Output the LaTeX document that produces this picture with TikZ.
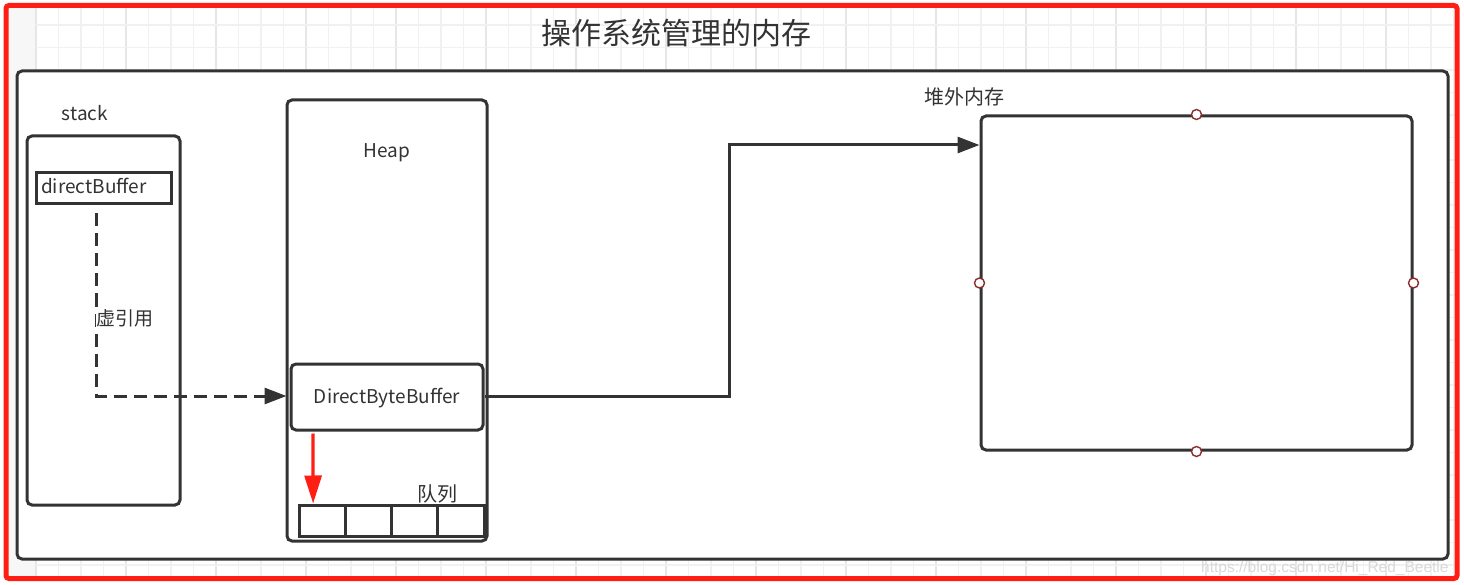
\documentclass[tikz,border=0pt]{standalone}
\usepackage{fontspec}
\setmainfont{Noto Sans CJK SC}
\newfontfamily\wmfont{Liberation Sans}
\usetikzlibrary{arrows.meta}
\definecolor{ln}{HTML}{333333}
\definecolor{gridminor}{HTML}{F1F1F1}
\definecolor{gridmajor}{HTML}{E6E6E6}
\definecolor{redb}{HTML}{FF1E14}
\definecolor{pt}{HTML}{8B2E2E}
\tikzset{
  box/.style={draw=ln, line width=3pt, rounded corners=5pt, fill=white, inner sep=0pt},
  sqbox/.style={draw=ln, line width=3pt, fill=white, inner sep=0pt},
  lbl/.style={text=ln, inner sep=0pt, font=\fontsize{19}{21}\selectfont},
  conn/.style={draw=ln, line width=3pt, -{Triangle[length=22pt,width=16pt]}},
  dconn/.style={conn, dash pattern=on 13pt off 7pt},
  redarrow/.style={draw=redb, line width=3.2pt, -{Triangle[length=28pt,width=17pt]}},
  port/.style={circle, draw=pt, line width=1.4pt, fill=white, minimum size=10pt, inner sep=0pt}
}
\begin{document}
\begin{tikzpicture}[x=1pt,y=-1pt]
\useasboundingbox (0,0) rectangle (1464,585);
\fill[white] (0,0) rectangle (1464,585);
% background grid
\begin{scope}
\clip (6,5) rectangle (1457,579);
\fill[gridminor!60] (6,5) rectangle (36,579);
\foreach \i in {0,...,63} {
  \pgfmathsetmacro{\xx}{36+22.5*\i}
  \ifnum\numexpr\i-4*(\i/4)\relax=0
    \draw[gridmajor, line width=1.2pt] (\xx,5) -- (\xx,579);
  \else
    \draw[gridminor, line width=1.2pt] (\xx,5) -- (\xx,579);
  \fi
}
\foreach \j in {0,...,25} {
  \pgfmathsetmacro{\yy}{25+22.5*\j}
  \draw[gridminor, line width=1.2pt] (36,\yy) -- (1457,\yy);
}
\end{scope}
% watermark
\node[text=black!15, inner sep=0pt, font=\wmfont\fontsize{15.5}{17}\selectfont, anchor=west] (wm) at (1201,568) {https://blog.csdn.net/Hi\_Red\_Beetle};
% red border
\draw[redb, line width=5pt, rounded corners=3pt] (6,5.5) rectangle (1457,578.5);
% title
\node[lbl, font=\fontsize{30}{33}\selectfont] (title) at (676,33) {操作系统管理的内存};
% outer container
\node[box, minimum width=1431, minimum height=488] (outer) at (732.5,315) {};
% stack
\node[lbl] (stacklbl) at (85,113) {stack};
\node[box, minimum width=153, minimum height=369] (stack) at (103.5,320.5) {};
\node[sqbox, minimum width=135, minimum height=31] (dbuf) at (103.5,188.5) {};
\node[lbl, anchor=west] (dbuflbl) at (41,186) {directBuffer};
% heap
\node[box, minimum width=200, minimum height=441] (heap) at (387,320.5) {};
\node[lbl] (heaplbl) at (387,153) {Heap};
\node[box, minimum width=192, minimum height=66] (dbb) at (387,397) {};
\node[lbl] (dbblbl) at (387,398) {DirectByteBuffer};
% queue
\node[lbl, font=\fontsize{20}{22}\selectfont] (qlbl) at (437,494) {队列};
\foreach \k in {1,...,4} {
  \node[sqbox, minimum width=46.25, minimum height=31] (q\k) at ({299+46.25*(\k-0.5)},520.5) {};
}
% off-heap
\node[lbl, font=\fontsize{20}{22}\selectfont] (offlbl) at (964,97) {堆外内存};
\node[box, minimum width=431, minimum height=334] (off) at (1196.5,283) {};
\node[port] (p1) at (off.north) {};
\node[port] (p2) at (off.south) {};
\node[port] (p3) at (off.west) {};
\node[port] (p4) at (off.east) {};
% connectors
\coordinate (ty) at (0,145);
\draw[dconn] ([xshift=-7.5pt,yshift=-8pt]dbuf.south) |- ([xshift=-3pt,yshift=1pt]dbb.west);
\node[lbl, fill=white, inner sep=1pt] (vref) at (125,318) {虚引用};
\draw[conn] ([yshift=1pt]dbb.east) -- ++(245,0) |- (off.west |- ty);
\draw[redarrow] ([xshift=-74pt,yshift=-2pt]dbb.south) -- ([xshift=-9pt]q1.north);
\end{tikzpicture}
\end{document}
